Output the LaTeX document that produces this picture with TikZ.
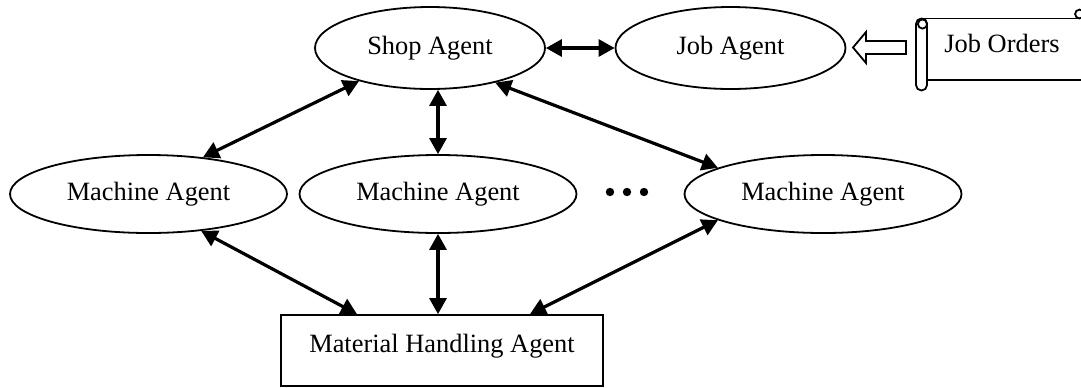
\documentclass[tikz,border=0pt]{standalone}
\usepackage{fontspec}
\setmainfont{Liberation Serif}
\usetikzlibrary{arrows.meta,shapes.geometric,calc}

\begin{document}
\begin{tikzpicture}[x=0.5pt,y=-0.5pt,
  lbl/.style={font=\fontsize{13.2}{15}\selectfont,text height=9pt,text depth=3pt},
  agent/.style={ellipse,draw,line width=0.9pt,inner sep=0pt,lbl},
  shopsize/.style={minimum width=115pt,minimum height=41pt},
  machsize/.style={minimum width=138.5pt,minimum height=39pt},
  tip/.style={Triangle[length=8pt,width=8.5pt]},
  link/.style={line width=1.6pt,{Triangle[length=8pt,width=8.5pt]}-{Triangle[length=8pt,width=8.5pt]}},
  outline/.style={line width=0.9pt},
]
\useasboundingbox (0,0) rectangle (1081,387);
\clip (0,0) rectangle (1081,387);

% agents
\node[agent,shopsize] (shop) at (430,48)    {Shop Agent};
\node[agent,shopsize] (job)  at (730.5,48)  {Job Agent};
\node[agent,machsize] (m1)   at (148.5,194) {Machine Agent};
\node[agent,machsize] (m2)   at (438,194)   {Machine Agent};
\node[agent,machsize] (m3)   at (823,194)   {Machine Agent};
\node[draw,outline,lbl,inner sep=0pt,minimum width=161pt,minimum height=35.5pt,
      text depth=7.5pt] (mha) at (442,350.5) {Material Handling Agent};

% ellipsis between machine agents
\foreach \x in {610,627,644} \fill (\x,192) circle (2.1pt);

% two-way links
\draw[link] (shop.east) -- (job.west);
\draw[link] (shop.205.6) -- (m1.34.4);
\draw[link] (shop.south -| m2.north) -- (m2.north);
\draw[link] (shop.332.4) -- (m3.166.7);
\draw[link] (m1.325.5) -- ($(mha.north)+(-85,0)$);
\draw[link] (m2.south) -- (mha.north -| m2.south);
\draw[link] (m3.194.9) -- ($(mha.north)+(88,0)$);

% job orders scroll
\node[lbl] (orders) at (1002,46) {Job Orders};
\begin{scope}[outline]
  \draw (921.5,18.5) -- (1090,18.5);
  \draw (927,80) -- (1090,80);
  \draw[rounded corners=2.7pt] (916,18.5) rectangle (927,90.5);
  \draw (922.5,24) circle (2.3pt);
  \draw (1079.5,14) circle (2.2pt);
\end{scope}

% hollow block arrow from the scroll to the job agent
\draw[outline,fill=white] (906,41) -- (866,41) -- (866,32) -- (853,47.5)
      -- (866,63) -- (866,54) -- (906,54) -- cycle;
\end{tikzpicture}
\end{document}
